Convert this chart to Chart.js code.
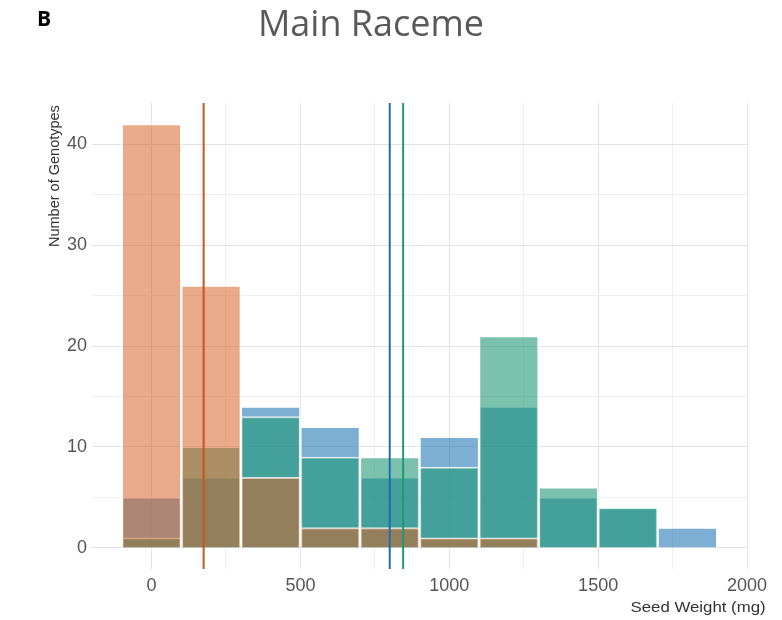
<!DOCTYPE html>
<html>
<head>
<meta charset="utf-8">
<script src="https://cdn.jsdelivr.net/npm/chart.js@4"></script>
<style>
  html, body { margin: 0; padding: 0; background: #fff; }
  #wrap { position: relative; width: 782px; height: 620px; overflow: hidden; }
  #chart { position: absolute; left: 0; top: 0; }
  .txt { position: absolute; white-space: nowrap; }
  #panel { left: 37px; top: 4px; font: 700 21px "Open Sans", sans-serif; color: #000; }
  #title { left: 0; width: 742px; top: -2px; text-align: center; font: 400 36px "Open Sans", sans-serif; color: #595959; }
  #ytitle { left: 46px; top: 247px; line-height: 14px; font: 14.5px "Liberation Sans", Arial, sans-serif; color: #333;
            transform: rotate(-90deg); transform-origin: left top; }
  #xtitle { right: 16px; top: 598px; font: 15px "Liberation Sans", Arial, sans-serif; color: #333;
            transform: scaleX(1.12); transform-origin: right top; }
</style>
</head>
<body>
<div id="wrap">
  <canvas id="chart" width="782" height="620"></canvas>
  <div class="txt" id="panel">B</div>
  <div class="txt" id="title">Main Raceme</div>
  <div class="txt" id="ytitle">Number of Genotypes</div>
  <div class="txt" id="xtitle">Seed Weight (mg)</div>
</div>
<script>
// bin centres (mg), bin width 200
const binCentres = [0, 200, 400, 600, 800, 1000, 1200, 1400, 1600, 1800];

// counts per bin for each group
const orangeCounts = [42, 26, 7, 2, 2, 1, 1, 0, 0, 0];
const greenCounts = [1, 10, 13, 9, 9, 8, 21, 6, 4, 0];
const blueCounts = [5, 7, 14, 12, 7, 11, 14, 5, 4, 2];

// group means (vertical lines)
const orangeMean = 175;
const blueMean = 800;
const greenMean = 845;

// axis ticks
const xGrid = [0, 250, 500, 750, 1000, 1250, 1500, 1750, 2000];
const xLabels = [0, 500, 1000, 1500, 2000];
const yGrid = [0, 5, 10, 15, 20, 25, 30, 35, 40];
const yLabels = [0, 10, 20, 30, 40];

function toPoints(counts) {
  const pts = [];
  counts.forEach(function (c, i) {
    if (c > 0) pts.push({ x: binCentres[i], y: c });
  });
  return pts;
}

// major gridlines a bit darker than minor ones
function gridColor(labels) {
  return function (c) {
    const v = c.tick ? c.tick.value : null;
    return labels.indexOf(v) >= 0 ? "#e3e3e3" : "#efefef";
  };
}

const meanLines = {
  id: "meanLines",
  afterDatasetsDraw: function (chart) {
    const ctx = chart.ctx;
    const area = chart.chartArea;
    const xs = chart.scales.x;
    const lines = [
      [orangeMean, "#c8561a"],
      [blueMean, "#1f6ea8"],
      [greenMean, "#1f9a70"],
    ];
    ctx.save();
    ctx.lineWidth = 2;
    lines.forEach(function (l) {
      const px = xs.getPixelForValue(l[0]);
      ctx.strokeStyle = l[1];
      ctx.beginPath();
      ctx.moveTo(px, area.top);
      ctx.lineTo(px, area.bottom);
      ctx.stroke();
    });
    ctx.restore();
  },
};

const barStyle = {
  barPercentage: 1,
  categoryPercentage: 1,
  grouped: false,
  borderWidth: 1.5,
  borderColor: "rgba(255,255,255,0.8)",
  borderSkipped: "bottom",
};

const ctx = document.getElementById("chart").getContext("2d");
new Chart(ctx, {
  type: "bar",
  data: {
    datasets: [
      Object.assign({ label: "orange", data: toPoints(orangeCounts), backgroundColor: "rgba(214,100,40,0.55)" }, barStyle),
      Object.assign({ label: "green", data: toPoints(greenCounts), backgroundColor: "rgba(27,150,115,0.58)" }, barStyle),
      Object.assign({ label: "blue", data: toPoints(blueCounts), backgroundColor: "rgba(31,115,180,0.58)" }, barStyle),
    ],
  },
  options: {
    responsive: false,
    animation: false,
    layout: { padding: { left: 0, top: 103, right: 35, bottom: 0 } },
    plugins: {
      legend: { display: false },
      tooltip: { enabled: false },
      title: { display: false },
    },
    scales: {
      x: {
        type: "linear",
        min: -200,
        max: 2000,
        offset: false,
        afterFit: function (s) { s.height = 51; },
        afterBuildTicks: function (s) {
          s.ticks = xGrid.map(function (v) { return { value: v }; });
        },
        border: { display: false },
        grid: { offset: false, drawTicks: false, lineWidth: 1, color: gridColor(xLabels) },
        ticks: {
          padding: 6,
          autoSkip: false,
          maxRotation: 0,
          color: "#555",
          font: { family: "Liberation Sans", size: 18 },
          callback: function (v) {
            return xLabels.indexOf(v) >= 0 ? String(v) : "";
          },
        },
      },
      y: {
        min: -2.1,
        max: 44.1,
        afterFit: function (s) { s.width = 92; },
        afterBuildTicks: function (s) {
          s.ticks = yGrid.map(function (v) { return { value: v }; });
        },
        border: { display: false },
        grid: { drawTicks: false, lineWidth: 1, color: gridColor(yLabels) },
        ticks: {
          padding: 5,
          autoSkip: false,
          color: "#555",
          font: { family: "Liberation Sans", size: 18 },
          callback: function (v) {
            return yLabels.indexOf(v) >= 0 ? String(v) : "";
          },
        },
      },
    },
  },
  plugins: [meanLines],
});
</script>
</body>
</html>
